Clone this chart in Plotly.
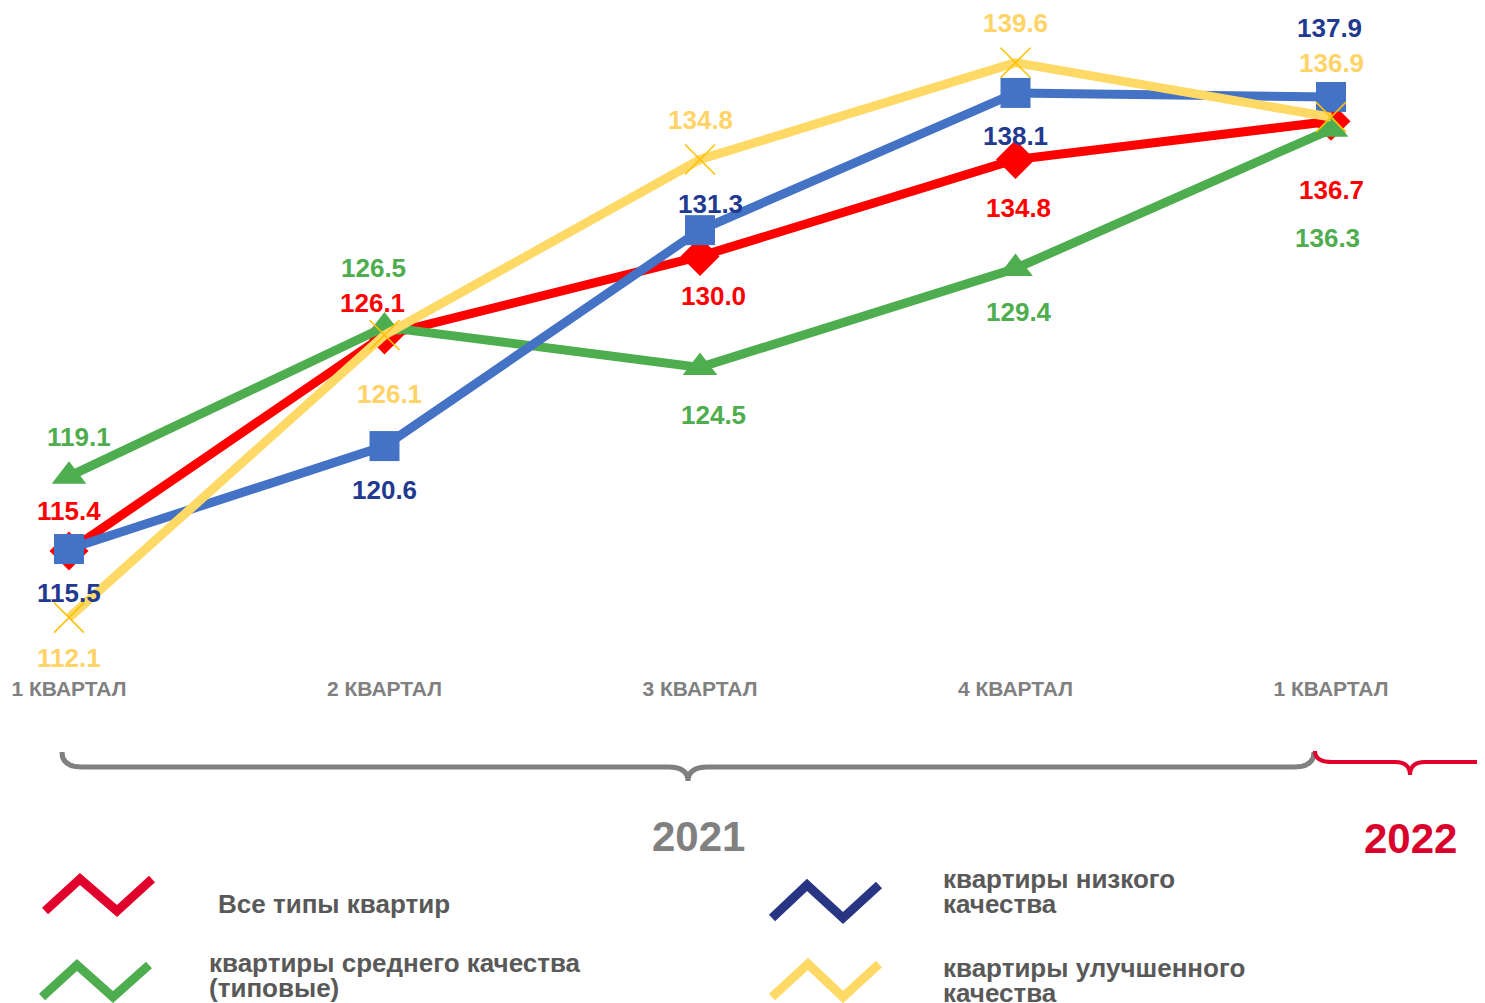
import plotly.graph_objects as go

categories = ["1 КВАРТАЛ", "2 КВАРТАЛ", "3 КВАРТАЛ", "4 КВАРТАЛ", "1 КВАРТАЛ"]
all_types = [115.4, 126.1, 130.0, 134.8, 136.7]
medium = [119.1, 126.5, 124.5, 129.4, 136.3]
low = [115.5, 120.6, 131.3, 138.1, 137.9]
improved = [112.1, 126.1, 134.8, 139.6, 136.9]
years = ["2021", "2022"]
legend_lines = [["Все типы квартир"],
                ["квартиры среднего качества", "(типовые)"],
                ["квартиры низкого", "качества"],
                ["квартиры улучшенного", "качества"]]

W, H = 1485, 1003
OFF = 8          # page offset of the figure (body margin)
PLOT_H = 666
FONT = "Liberation Sans, Arial, sans-serif"

def px(x):
    return (x - OFF) / W

def py(y):
    return (PLOT_H - (y - OFF)) / PLOT_H

xs = list(range(len(categories)))

series = [
    dict(vals=all_types, line="#FF0000", label="#FF0000",
         marker=dict(symbol="diamond", size=30, color="#FF0000"),
         yshift=[40, 32, -40, -48, -69], xshift=[0, -12, 13, 3, 0]),
    dict(vals=medium, line="#4EAD4E", label="#4EAD4E",
         marker=dict(symbol="triangle-up", size=30, color="#4EAD4E"),
         yshift=[39, 59, -48, -43, -109], xshift=[10, -11, 13, 3, -4]),
    dict(vals=low, line="#4472C4", label="#1F3A8F",
         marker=dict(symbol="square", size=30, color="#4472C4"),
         yshift=[-44, -44, 26, -43, 69], xshift=[0, 0, 10, 0, -2]),
    dict(vals=improved, line="#FFD966", label="#FFD366",
         marker=dict(symbol="x-thin-open", size=30, color="#FFC000",
                     line=dict(color="#FFC000", width=1.5)),
         yshift=[-40, -59, 40, 40, 54], xshift=[0, 5, 0, 0, 0]),
]

fig = go.Figure()
annotations = []
for s in series:
    fig.add_trace(go.Scatter(x=xs, y=s["vals"], mode="lines+markers",
                             line=dict(color=s["line"], width=9),
                             marker=s["marker"], showlegend=False,
                             hoverinfo="skip", cliponaxis=False))
    for i, v in enumerate(s["vals"]):
        annotations.append(dict(x=xs[i], y=v, text=f"<b>{v:.1f}</b>", showarrow=False,
                                yshift=s["yshift"][i], xshift=s["xshift"][i],
                                font=dict(family=FONT, size=26, color=s["label"])))

# years
annotations.append(dict(x=px(698), y=py(836), xref="paper", yref="paper", text=f"<b>{years[0]}</b>",
                        xanchor="center", yanchor="middle",
                        showarrow=False, font=dict(family=FONT, size=42, color="#808080")))
annotations.append(dict(x=px(1410), y=py(838), xref="paper", yref="paper", text=f"<b>{years[1]}</b>",
                        xanchor="center", yanchor="middle",
                        showarrow=False, font=dict(family=FONT, size=42, color="#D9002B")))

# legend texts
leg_pos = [(216, [904]), (207, [963, 988]), (941, [879, 904]), (941, [968, 993])]
for lines, (lx, lys) in zip(legend_lines, leg_pos):
    for txt, ly in zip(lines, lys):
        annotations.append(dict(x=px(lx), y=py(ly), xref="paper", yref="paper",
                                xanchor="left", yanchor="middle", align="left",
                                text=f"<b>{txt}</b>", showarrow=False,
                                font=dict(family=FONT, size=26, color="#595959")))

def path_from(points):
    return "M " + " L ".join(f"{px(a):.5f},{py(b):.5f}" for a, b in points)

shapes = []
# legend zigzags
zig = [((45, 911), (80, 879), (117, 911), (152, 879), "#E0002B"),
       ((42, 997), (77, 965), (113, 997), (149, 965), "#4EAD4E"),
       ((772, 918), (807, 885), (843, 918), (879, 885), "#283583"),
       ((772, 997), (808, 964), (843, 997), (879, 964), "#FFD966")]
for z in zig:
    shapes.append(dict(type="path", xref="paper", yref="paper", path=path_from(z[:4]),
                       line=dict(color=z[4], width=9)))

def brace(x0, x1, xt, ytop, yline, ytip, r):
    return (f"M {px(x0)},{py(ytop)} Q {px(x0)},{py(yline)} {px(x0 + r)},{py(yline)} "
            f"L {px(xt - r)},{py(yline)} Q {px(xt)},{py(yline)} {px(xt)},{py(ytip)} "
            f"Q {px(xt)},{py(yline)} {px(xt + r)},{py(yline)} "
            f"L {px(x1 - r)},{py(yline)} Q {px(x1)},{py(yline)} {px(x1)},{py(ytop)}")

shapes.append(dict(type="path", xref="paper", yref="paper",
                   path=brace(62, 1314, 688, 752, 767, 781, 20),
                   line=dict(color="#808080", width=5)))
shapes.append(dict(type="path", xref="paper", yref="paper",
                   path=(f"M {px(1315)},{py(751)} Q {px(1315)},{py(762)} {px(1332)},{py(762)} "
                         f"L {px(1395)},{py(762)} Q {px(1410)},{py(762)} {px(1410)},{py(775)} "
                         f"Q {px(1410)},{py(762)} {px(1425)},{py(762)} L {px(1500)},{py(762)}"),
                   line=dict(color="#E0002B", width=4)))

x0 = (OFF - 69) / 315.5
x1 = (OFF + W - 69) / 315.5
y_top = 115.5 + (549 - OFF) / 20.18
y_bot = 115.5 - (OFF + PLOT_H - 549) / 20.18

fig.update_layout(
    width=W, height=H,
    margin=dict(l=0, r=0, t=0, b=H - PLOT_H, pad=0),
    paper_bgcolor="white", plot_bgcolor="white",
    showlegend=False,
    xaxis=dict(range=[x0, x1], tickvals=xs,
               ticktext=[f"<b>{c}</b>" for c in categories],
               showgrid=False, zeroline=False, showline=False, ticks="",
               tickfont=dict(family=FONT, size=21, color="#808080")),
    yaxis=dict(range=[y_bot, y_top], visible=False, showgrid=False, zeroline=False),
    annotations=annotations, shapes=shapes,
)
fig.write_html("out.html")
